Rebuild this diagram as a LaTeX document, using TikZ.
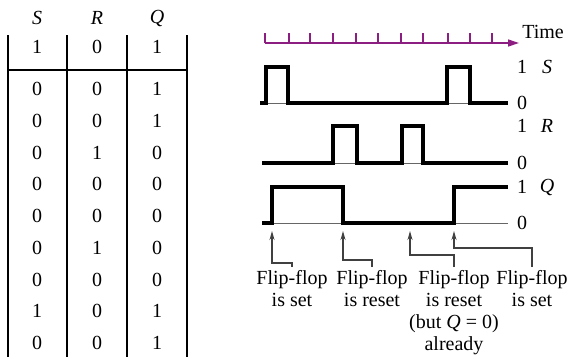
\documentclass[tikz,border=0pt]{standalone}
\usepackage{fontspec}
\setmainfont{Liberation Serif}
\newfontfamily\timesfont{Liberation Serif}
\usetikzlibrary{arrows.meta}
\definecolor{timepurple}{RGB}{140,30,130}
\begin{document}
\begin{tikzpicture}[x=1pt,y=-1pt,
  lbl/.style={font=\timesfont\fontsize{20}{22}\selectfont, inner sep=0pt},
  grid/.style={line width=2pt},
  wave/.style={line width=4pt, line join=miter},
  baseln/.style={line width=0.8pt, black!60},
  callout/.style={line width=1.3pt, black!75, -{Stealth[length=9pt,width=5pt]}},
  tickln/.style={timepurple, line width=1.3pt}]
\useasboundingbox (0,0) rectangle (569,357);
% ---------- table ----------
\foreach \x in {8,67,127,187} \draw[grid] (\x,35) -- (\x,357);
\draw[grid] (7,70) -- (188,70);
\node[lbl] (hS) at (37,18) {\textit{S}};
\node[lbl] (hR) at (97,18) {\textit{R}};
\node[lbl] (hQ) at (157,18) {\textit{Q}};
\node[lbl] (r0s) at (37,47) {1};
\node[lbl] (r0r) at (97,47) {0};
\node[lbl] (r0q) at (157,47) {1};
\foreach \s/\r/\q [count=\i from 0] in {0/0/1,0/0/1,0/1/0,0/0/0,0/0/0,0/1/0,0/0/0,1/0/1,0/0/1}{
  \node[lbl] (s\i) at (37,89+31.75*\i) {\s};
  \node[lbl] (r\i) at (97,89+31.75*\i) {\r};
  \node[lbl] (q\i) at (157,89+31.75*\i) {\q};
}
% ---------- time axis ----------
\coordinate (ta) at (265,43);
\coordinate (tb) at (519,43);
\draw[tickln, -{Triangle[length=11pt,width=7pt]}] (ta) -- (tb);
\foreach \x in {265,289,310,333,356,378,401,423,448,470,492}
  \draw[tickln] (\x,43) -- (\x,33);
\node[lbl] (time) at (543,32) {Time};
% ---------- waveforms ----------
\draw[baseln] (260,103) -- (508,103);
\draw[baseln] (262,163) -- (508,163);
\draw[baseln] (262,223) -- (508,223);
\draw[wave] (260,103) -- (266,103) -- (266,67) -- (288,67) -- (288,103) -- (447,103) -- (447,67) -- (470,67) -- (470,103) -- (508,103);
\draw[wave] (262,163) -- (333,163) -- (333,126) -- (357,126) -- (357,163) -- (402,163) -- (402,126) -- (423,126) -- (423,163) -- (508,163);
\draw[wave] (262,223) -- (272,223) -- (272,187) -- (343,187) -- (343,223) -- (454,223) -- (454,187) -- (508,187);
\node[lbl] (s1) at (522,67) {1};
\node[lbl] (sn) at (547,67) {\textit{S}};
\node[lbl] (s0) at (522,103) {0};
\node[lbl] (rr1) at (522,126) {1};
\node[lbl] (rn) at (547,126) {\textit{R}};
\node[lbl] (rr0) at (522,163) {0};
\node[lbl] (q1) at (522,187) {1};
\node[lbl] (qn) at (547,187) {\textit{Q}};
\node[lbl] (q0) at (522,223) {0};
% ---------- callouts ----------
\node[lbl, align=center, anchor=north] (lab1) at (292,270) {Flip-flop\\is set};
\node[lbl, align=center, anchor=north] (lab2) at (372,270) {Flip-flop\\is reset};
\node[lbl, align=center, anchor=north] (lab3) at (454,270) {Flip-flop\\is reset\\(but \textit{Q} = 0)\\already};
\node[lbl, align=center, anchor=north] (lab4) at (532,270) {Flip-flop\\is set};
\coordinate (t1) at (272,231); \coordinate (e1) at (272,263);
\coordinate (t2) at (343,231); \coordinate (e2) at (343,260);
\coordinate (t3) at (410,231); \coordinate (e3) at (410,255);
\coordinate (t4) at (454,231); \coordinate (e4) at (454,248);
\draw[callout] ([yshift=3pt]lab1.north) |- (e1) -- (t1);
\draw[callout] ([yshift=3pt]lab2.north) |- (e2) -- (t2);
\draw[callout] ([yshift=3pt]lab3.north) |- (e3) -- (t3);
\draw[callout] ([yshift=3pt]lab4.north) |- (e4) -- (t4);
\end{tikzpicture}
\end{document}
